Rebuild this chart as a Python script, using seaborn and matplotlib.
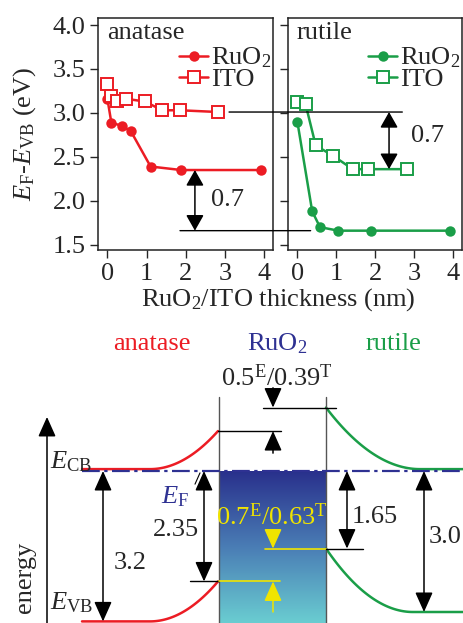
import numpy as np
import matplotlib
matplotlib.use("Agg")
import matplotlib.pyplot as plt
from matplotlib.patches import ConnectionPatch
from matplotlib.colors import LinearSegmentedColormap
import seaborn as sns

# ---- top panels: E_F - E_VB vs overlayer thickness ----
ana_ruo2_x = [0.0, 0.1, 0.38, 0.6, 1.1, 1.88, 3.92]
ana_ruo2_y = [3.16, 2.89, 2.85, 2.79, 2.39, 2.35, 2.35]
ana_ito_x = [0.0, 0.1, 0.25, 0.48, 0.95, 1.4, 1.85, 2.83]
ana_ito_y = [3.33, 3.19, 3.13, 3.16, 3.13, 3.03, 3.03, 3.01]
rut_ruo2_x = [0.0, 0.38, 0.58, 1.05, 1.9, 3.9]
rut_ruo2_y = [2.9, 1.88, 1.7, 1.66, 1.66, 1.66]
rut_ito_x = [0.0, 0.21, 0.47, 0.92, 1.42, 1.8, 2.8]
rut_ito_y = [3.12, 3.1, 2.63, 2.51, 2.36, 2.36, 2.36]
yticks = [1.5, 2.0, 2.5, 3.0, 3.5, 4.0]
xticks = [0, 1, 2, 3, 4]

# ---- bottom schematic: energies (eV, relative to E_F) ----
gap_anatase = 3.2
gap_rutile = 3.0
vb_anatase = 2.35   # E_F - E_VB at anatase interface
vb_rutile = 1.65    # E_F - E_VB at rutile interface

RED = '#ec1c24'
GREEN = '#1a9e48'
BLUE = '#2e3192'
YELLOW = '#f0e400'
FS = 19

sns.set_style("ticks")
plt.rcParams['font.family'] = ['Liberation Serif', 'DejaVu Serif']
plt.rcParams['mathtext.fontset'] = 'custom'
plt.rcParams['mathtext.rm'] = 'Liberation Serif'
plt.rcParams['mathtext.it'] = 'Liberation Serif:italic'
plt.rcParams['font.size'] = FS

fig = plt.figure(figsize=(4.64, 6.23), dpi=100)
W, H = 464, 623


def box(l, t, r, b):
    return [l / W, 1 - b / H, (r - l) / W, (b - t) / H]


ax1 = fig.add_axes(box(98, 18, 273, 250))
ax2 = fig.add_axes(box(288, 18, 462, 250))

panels = [(ax1, ana_ruo2_x, ana_ruo2_y, ana_ito_x, ana_ito_y, RED, 'anatase'),
          (ax2, rut_ruo2_x, rut_ruo2_y, rut_ito_x, rut_ito_y, GREEN, 'rutile')]
for ax, fx, fy, ox, oy, c, name in panels:
    sns.lineplot(x=fx, y=fy, ax=ax, color=c, marker='o', markersize=7.5,
                 markeredgecolor=c, markeredgewidth=0, lw=1.8, label='RuO$_2$')
    sns.lineplot(x=ox, y=oy, ax=ax, color=c, marker='s', markersize=8.5,
                 markerfacecolor='white', markeredgecolor=c, markeredgewidth=1.4,
                 lw=1.8, label='ITO')
    ax.set_xlim(-0.24, 4.22)
    ax.set_ylim(1.44, 4.08)
    ax.set_xticks(xticks)
    ax.set_yticks(yticks)
    ax.set_yticklabels([f'{v:.1f}' for v in yticks])
    ax.tick_params(direction='out', length=6, width=1, pad=3, labelsize=FS)
    for s in ax.spines.values():
        s.set_linewidth(1.1)
        s.set_color('#222222')
    ax.set_xlabel('')
    ax.set_ylabel('')
    ax.text(0.05, 0.935, name, transform=ax.transAxes, va='center', ha='left', fontsize=FS)
    ax.legend(loc='upper right', bbox_to_anchor=(0.99, 0.88), frameon=False,
              handlelength=1.1, handletextpad=0.1, labelspacing=-0.12,
              borderaxespad=0, borderpad=0, fontsize=FS)

ax2.tick_params(labelleft=False)
ax1.set_ylabel(r'$E_\mathrm{F}$-$E_\mathrm{VB}$ (eV)', fontsize=FS)
ax1.yaxis.set_label_coords(-0.34, 0.5)
fig.text(278 / W, 1 - 300 / H, 'RuO$_2$/ITO thickness (nm)', ha='center', va='center', fontsize=FS)


def arrow(ax, x, y0, y1, style='<|-|>', color='k', hw=0.34, hl=0.76, ms=16, lw=1.1):
    ax.annotate('', xy=(x, y1), xytext=(x, y0),
                arrowprops=dict(arrowstyle=f'{style},head_width={hw},head_length={hl}',
                                color=color, lw=lw, shrinkA=0, shrinkB=0,
                                mutation_scale=ms))


# guide lines across both panels
for (xa, xb, yv) in [(3.1, 2.69, ana_ito_y[-1]), (1.85, 0.34, rut_ruo2_y[-1])]:
    con = ConnectionPatch(xyA=(xa, yv), coordsA=ax1.transData,
                          xyB=(xb, yv), coordsB=ax2.transData, color='k', lw=1.0)
    fig.add_artist(con)
arrow(ax1, 2.23, ana_ruo2_y[-1], rut_ruo2_y[-1], hw=0.34, hl=0.6)
ax1.text(2.65, 2.01, '0.7', ha='left', va='center', fontsize=FS)
arrow(ax2, 2.35, ana_ito_y[-1], rut_ito_y[-1], hw=0.34, hl=0.6)
ax2.text(2.9, 2.74, '0.7', ha='left', va='center', fontsize=FS)

# ---- band diagram ----
ylo, yhi = -3.234, 3.0
axd = fig.add_axes([0, 0, 1, 293 / H])
cmap = LinearSegmentedColormap.from_list('ruo2', ['#29308c', '#4a7db5', '#6acdd1'])
grad = np.linspace(0, 1, 256).reshape(-1, 1)
axd.imshow(grad, extent=[219, 326, ylo, 0], cmap=cmap, aspect='auto', origin='upper', zorder=0)
axd.set_xlim(0, W)
axd.set_ylim(ylo, yhi)
axd.axis('off')

t = np.linspace(0, 1, 80)
cb_a = gap_anatase - vb_anatase
cb_r = gap_rutile - vb_rutile
# anatase bands
axd.plot(np.r_[82, 150 + 68 * t], np.r_[0.04, 0.04 + (cb_a - 0.04) * t ** 2], color=RED, lw=1.8)
axd.plot(np.r_[82, 150 + 68 * t], np.r_[-gap_anatase, -gap_anatase + (gap_anatase - vb_anatase) * t ** 2],
         color=RED, lw=1.8)
# rutile bands
axd.plot(np.r_[326 + 94 * t, W], np.r_[0.04 + (cb_r - 0.04) * (1 - t) ** 2, 0.04], color=GREEN, lw=1.8)
axd.plot(np.r_[326 + 87 * t, W], np.r_[-gap_rutile + (gap_rutile - vb_rutile) * (1 - t) ** 2, -gap_rutile],
         color=GREEN, lw=1.8)
# Fermi level
axd.plot([82, W], [0, 0], color=BLUE, lw=1.6, ls=(0, (8, 2, 1.5, 2)), zorder=3)
# RuO2 walls
for xw in (219, 326):
    axd.plot([xw, xw], [1.57, ylo], color='#555555', lw=1.0)
# energy axis
arrow(axd, 47, ylo, 1.15, style='-|>')
axd.text(25, -2.26, 'energy', rotation=90, ha='center', va='center', fontsize=FS)
axd.text(50, 0.2, r'$E_\mathrm{CB}$', ha='left', va='center', fontsize=FS)
axd.text(50, -2.8, r'$E_\mathrm{VB}$', ha='left', va='center', fontsize=FS)
axd.text(175, -0.55, r'$E_\mathrm{F}$', ha='center', va='center', fontsize=FS, color=BLUE)
axd.plot([195, 200], [-0.28, -0.04], color='k', lw=0.8)

axd.text(152, 2.7, 'anatase', ha='center', va='center', fontsize=FS, color=RED)
axd.text(277, 2.7, 'RuO$_2$', ha='center', va='center', fontsize=FS, color=BLUE)
axd.text(393, 2.7, 'rutile', ha='center', va='center', fontsize=FS, color=GREEN)

# gap arrows
arrow(axd, 103, 0, -gap_anatase)
axd.text(130, -1.96, f'{gap_anatase}', ha='center', va='center', fontsize=FS)
arrow(axd, 204, 0, -vb_anatase)
axd.text(176, -1.26, f'{vb_anatase}', ha='center', va='center', fontsize=FS)
arrow(axd, 347, 0, -vb_rutile)
axd.text(375, -0.98, f'{vb_rutile}', ha='center', va='center', fontsize=FS)
arrow(axd, 424, 0, -gap_rutile)
axd.text(445, -1.4, f'{gap_rutile}', ha='center', va='center', fontsize=FS)

# CB offset
axd.plot([218, 281], [cb_a, cb_a], color='k', lw=1.0)
axd.plot([263, 336], [cb_r, cb_r], color='k', lw=1.0)
arrow(axd, 273, 0.38, cb_a, style='-|>')
arrow(axd, 273, 1.77, cb_r, style='-|>')
axd.text(277, 1.98, r'0.5$^\mathrm{E}$/0.39$^\mathrm{T}$', ha='center', va='center', fontsize=FS)

# VB offset
axd.plot([190, 219], [-vb_anatase, -vb_anatase], color='k', lw=1.0)
axd.plot([219, 280], [-vb_anatase, -vb_anatase], color=YELLOW, lw=1.2)
axd.plot([265, 326], [-vb_rutile, -vb_rutile], color=YELLOW, lw=1.2)
axd.plot([326, 363], [-vb_rutile, -vb_rutile], color='k', lw=1.0)
arrow(axd, 273, -1.3, -vb_rutile, style='-|>', color=YELLOW)
arrow(axd, 273, -3.0, -vb_anatase, style='-|>', color=YELLOW)
axd.text(272, -0.98, r'0.7$^\mathrm{E}$/0.63$^\mathrm{T}$', ha='center', va='center',
         fontsize=FS, color=YELLOW)

fig.savefig('out.png', dpi=100)
